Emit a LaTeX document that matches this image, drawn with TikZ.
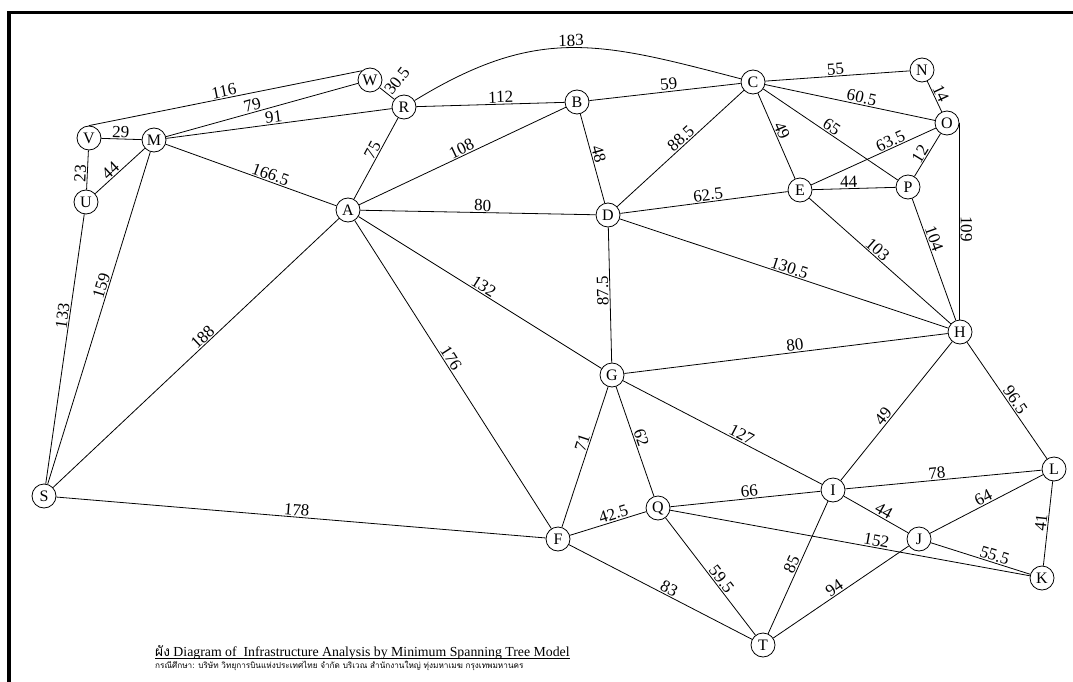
\documentclass[tikz,border=0pt]{standalone}
\usepackage{fontspec}
\setmainfont{Liberation Serif}
\newfontfamily\thaifont[Script=Thai]{Loma}
\begin{document}
\begin{tikzpicture}[x=1pt,y=-1pt,
  vertex/.style={circle,draw,fill=white,minimum size=24pt,inner sep=0pt,
    line width=0.8pt,font=\fontsize{16}{16}\selectfont},
  edge/.style={line width=0.8pt},
  w/.style={sloped,above,inner sep=1pt,font=\fontsize{17}{17}\selectfont},
  frame/.style={line width=3.5pt},
]
\useasboundingbox (0,0) rectangle (1073,682);

% page frame (top and left rules)
\draw[frame] (1073,12.5) -- (9,12.5) -- (9,682);

% vertices
\node[vertex] (W) at (370,80) {W};
\node[vertex] (R) at (404,107) {R};
\node[vertex] (V) at (89,138) {V};
\node[vertex] (M) at (154,140) {M};
\node[vertex] (U) at (86,202) {U};
\node[vertex] (A) at (348,210) {A};
\node[vertex] (B) at (577,102) {B};
\node[vertex] (C) at (753,82) {C};
\node[vertex] (N) at (922,70) {N};
\node[vertex] (O) at (947,123) {O};
\node[vertex] (E) at (800,190) {E};
\node[vertex] (P) at (908,187) {P};
\node[vertex] (D) at (608,215) {D};
\node[vertex] (H) at (960,332) {H};
\node[vertex] (G) at (612,375) {G};
\node[vertex] (L) at (1054,469) {L};
\node[vertex] (I) at (833,490) {I};
\node[vertex] (Q) at (658,508) {Q};
\node[vertex] (J) at (919,539) {J};
\node[vertex] (K) at (1042,578) {K};
\node[vertex] (F) at (558,539) {F};
\node[vertex] (S) at (44,496) {S};
\node[vertex] (T) at (763,645) {T};

% weighted edges
\draw[edge] (V.north) -- node[w,pos=0.5]{116} (W.132);
\draw[edge] (M) -- node[w,pos=0.46]{79} (W);
\draw[edge] (M) -- node[w,pos=0.48]{91} (R);
\draw[edge] (V) -- node[w,pos=0.48]{29} (M);
\draw[edge] (U) -- node[w,pos=0.4]{23} (V);
\draw[edge] (U) -- node[w,pos=0.4]{44} (M);
\draw[edge] (M) -- node[w,pos=0.6]{166.5} (A);
\draw[edge] (S) -- node[w,pos=0.62]{133} (U);
\draw[edge] (S) -- node[w,pos=0.59]{159} (M);
\draw[edge] (S) -- node[w,pos=0.54]{188} (A);
\draw[edge] (W) -- node[pos=0.5,rotate=52,anchor=west,inner sep=1pt,
  font=\fontsize{17}{17}\selectfont]{30.5} (R);
\draw[edge] (A) -- node[w,pos=0.56]{75} (R);
\draw[edge] (R) -- node[w,pos=0.57]{112} (B);
\draw[edge] (R) .. controls (538,25) and (600,42) .. node[w,pos=0.5]{183} (C);
\draw[edge] (B) -- node[w,pos=0.53]{59} (C);
\draw[edge] (A) -- node[w,pos=0.51]{108} (B);
\draw[edge] (A) -- node[w,pos=0.52]{80} (D);
\draw[edge] (B) -- node[w,pos=0.47]{48} (D);
\draw[edge] (D) -- node[w,pos=0.54]{88.5} (C);
\draw[edge] (C) -- node[w,pos=0.49]{55} (N);
\draw[edge] (N) -- node[w,pos=0.5]{14} (O);
\draw[edge] (C) -- node[w,pos=0.56]{60.5} (O);
\draw[edge] (C) -- node[w,pos=0.48]{65} (P);
\draw[edge] (C) -- node[w,pos=0.47]{49} (E);
\draw[edge] (E) -- node[w,pos=0.66]{63.5} (O);
\draw[edge] (P) -- node[w,pos=0.44]{12} (O);
\draw[edge] (D) -- node[w,pos=0.53]{62.5} (E);
\draw[edge] (E) -- node[w,pos=0.44]{44} (P);
\draw[edge] (E) -- node[w,pos=0.45]{103} (H);
\draw[edge] (P) -- node[w,pos=0.35]{104} (H);
\draw[edge] (O.east) -- node[w,allow upside down,pos=0.54]{109} (O.east |- H.north);
\draw[edge] (D) -- node[w,pos=0.51]{130.5} (H);
\draw[edge] (A) -- node[w,pos=0.5]{132} (G);
\draw[edge] (G) -- node[w,allow upside down,pos=0.53]{87.5} (D);
\draw[edge] (G) -- node[w,pos=0.53]{80} (H);
\draw[edge] (G) -- node[w,pos=0.58]{127} (I);
\draw[edge] (I) -- node[w,pos=0.43]{49} (H);
\draw[edge] (H) -- node[w,pos=0.53]{96.5} (L);
\draw[edge] (F) -- node[w,pos=0.585]{71} (G);
\draw[edge] (G) -- node[w,pos=0.49]{62} (Q);
\draw[edge] (A) -- node[w,pos=0.46]{176} (F);
\draw[edge] (S) -- node[w,pos=0.49]{178} (F);
\draw[edge] (F) -- node[w,pos=0.6]{42.5} (Q);
\draw[edge] (F) -- node[w,pos=0.53]{83} (T);
\draw[edge] (Q) -- node[w,pos=0.53]{66} (I);
\draw[edge] (Q) -- node[w,pos=0.56]{59.5} (T);
\draw[edge] (Q) -- node[w,pos=0.57]{152} (K);
\draw[edge] (I) -- node[w,pos=0.47]{78} (L);
\draw[edge] (I) -- node[w,pos=0.57]{44} (J);
\draw[edge] (T) -- node[w,pos=0.5]{85} (I);
\draw[edge] (J) -- node[w,pos=0.5]{64} (L);
\draw[edge] (J) -- node[w,pos=0.62]{55.5} (K);
\draw[edge] (K) -- node[w,pos=0.5]{41} (L);
\draw[edge] (T) -- node[w,pos=0.48]{94} (J);

% caption
\node[anchor=base west,inner sep=0pt,font=\fontsize{13.8}{14}\selectfont] (title) at (155,656)
  {{\thaifont ผัง} Diagram of\ \ Infrastructure Analysis by Minimum Spanning Tree Model};
\draw[line width=0.8pt] ([yshift=-2.5pt]title.base west) -- ([yshift=-2.5pt]title.base east);
\node[anchor=base west,inner sep=0pt,font=\thaifont\fontsize{8.2}{9}\selectfont] (subtitle) at (155,668)
  {กรณีศึกษา: บริษัท วิทยุการบินแห่งประเทศไทย จำกัด บริเวณ สำนักงานใหญ่ ทุ่งมหาเมฆ กรุงเทพมหานคร};
\end{tikzpicture}
\end{document}
